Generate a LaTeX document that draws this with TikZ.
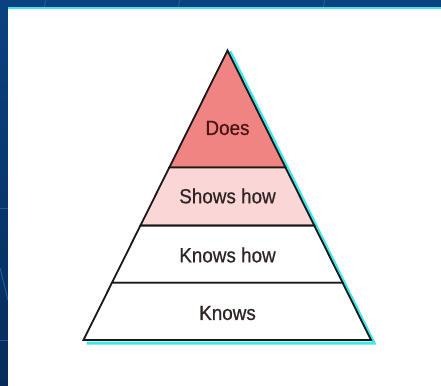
\documentclass[tikz,border=0pt]{standalone}
\usepackage{fontspec}
\usetikzlibrary{calc}
\setmainfont{Liberation Sans}[FakeStretch=0.92,FakeBold=0.6]
\definecolor{bgtop}{HTML}{0A4280}
\definecolor{bgbot}{HTML}{062D5A}
\definecolor{bgline}{HTML}{1F5A9E}
\definecolor{cyanline}{HTML}{3FE6EE}
\definecolor{doesfill}{HTML}{F08482}
\definecolor{showsfill}{HTML}{FBD6D6}
\definecolor{doestext}{HTML}{4A1414}
\definecolor{lvltext}{HTML}{2E2424}
\tikzset{
  layer/.style={draw=black!90, line width=1.8pt, line join=miter},
  lbl/.style={font=\fontsize{20.5}{22}\selectfont, inner sep=0pt},
  shadow/.style={draw=cyanline, line width=3pt}
}
\begin{document}
\begin{tikzpicture}[x=1pt,y=-1pt]
\useasboundingbox (0,0) rectangle (441,385);
\begin{scope}
\clip (0,0) rectangle (441,385);
% background
\shade[top color=bgtop, bottom color=bgbot] (0,0) rectangle (441,385);
\draw[bgline, line width=1pt] (46,0) -- (44,8);
\draw[bgline, line width=1pt] (180,0) -- (178,8);
\draw[bgline, line width=1pt] (325,0) -- (323,8);
\draw[bgline, line width=1pt] (0,208) -- (8,208);
\draw[bgline, line width=1pt] (0,340) -- (8,340);
\draw[bgline, line width=1pt] (0,268) -- (8,300);
% panel
\fill[white] (8,9) rectangle (445,390);
\draw[cyanline, line width=2pt] (8,8) -- (445,8);
\end{scope}
% pyramid coordinates
\coordinate (apex) at (227.5,50.5);
\coordinate (bl) at (83.5,340);
\coordinate (br) at (371,340);
\coordinate (l1) at ($(apex)!0.4044!(bl)$);
\coordinate (r1) at ($(apex)!0.4044!(br)$);
\coordinate (l2) at ($(apex)!0.6049!(bl)$);
\coordinate (r2) at ($(apex)!0.6049!(br)$);
\coordinate (l3) at ($(apex)!0.8019!(bl)$);
\coordinate (r3) at ($(apex)!0.8019!(br)$);
% shadow
\draw[shadow] ([shift={(2.5,1)}]apex) -- ([shift={(3,3)}]br) -- ([shift={(3,3)}]bl);
% layers
\filldraw[layer, fill=doesfill] (apex) -- (r1) -- (l1) -- cycle;
\filldraw[layer, fill=showsfill] (l1) -- (r1) -- (r2) -- (l2) -- cycle;
\filldraw[layer, fill=white] (l2) -- (r2) -- (r3) -- (l3) -- cycle;
\filldraw[layer, fill=white] (l3) -- (r3) -- (br) -- (bl) -- cycle;
% labels
\node[lbl, text=doestext] (does) at (227.5,128) {Does};
\node[lbl, text=lvltext] (shows) at (227.5,196) {Shows how};
\node[lbl, text=lvltext] (knowshow) at (227.5,255) {Knows how};
\node[lbl, text=lvltext] (knows) at (227.5,313) {Knows};
\end{tikzpicture}
\end{document}
